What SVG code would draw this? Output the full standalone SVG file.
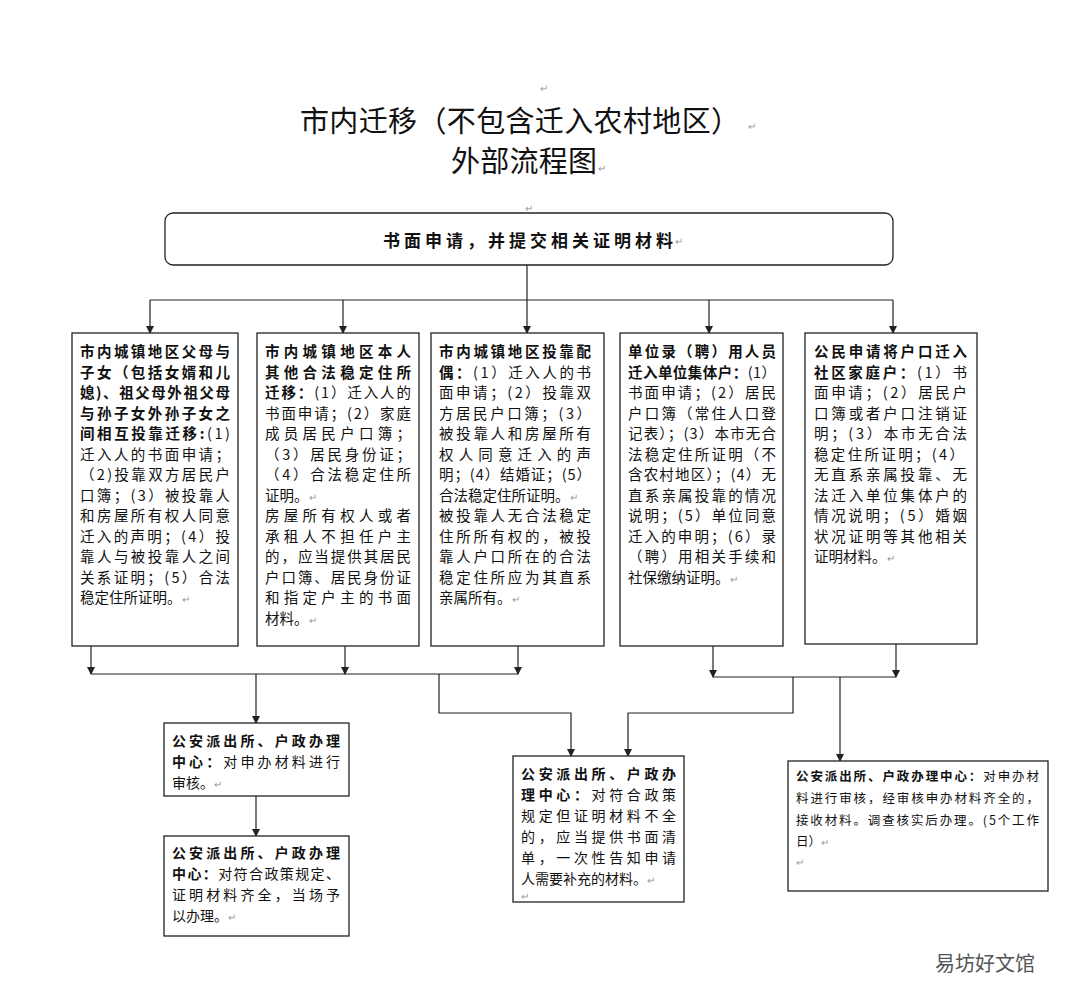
<svg xmlns="http://www.w3.org/2000/svg" width="1075" height="995" viewBox="0 0 1075 995">
<style>
text{font-family:"Noto Sans CJK SC","Liberation Serif",serif;fill:#111}
.t{font-size:29px}
.b{font-size:14.5px}
.s{font-size:14px}
.r{font-size:12.5px}
.bold{font-weight:bold}
.pm{fill:#999;font-size:10px}
.box{fill:#fff;stroke:#222;stroke-width:1.3}
.ln{fill:none;stroke:#222;stroke-width:1.2}
</style>
<defs><marker id="ah" markerWidth="8" markerHeight="8" refX="7" refY="4" orient="auto" markerUnits="userSpaceOnUse"><path d="M0,0L8,4L0,8z" fill="#222"/></marker></defs>
<rect width="1075" height="995" fill="#fff"/>
<g id="title">
<text class="t" x="300" y="132" textLength="440">市内迁移（不包含迁入农村地区）</text>
<text class="pm" x="748" y="130">↵</text>
<text class="t" x="451" y="172" textLength="146">外部流程图</text>
<text class="pm" x="598" y="172">↵</text>
<text class="pm" x="540" y="92">↵</text>
<text class="pm" x="525" y="212">↵</text>
</g>
<g id="connectors">
<path class="ln" d="M527,265V300M150,300H893"/>
<path class="ln" marker-end="url(#ah)" d="M150,300V333"/>
<path class="ln" marker-end="url(#ah)" d="M343,300V333"/>
<path class="ln" marker-end="url(#ah)" d="M527,300V333"/>
<path class="ln" marker-end="url(#ah)" d="M709,300V333"/>
<path class="ln" marker-end="url(#ah)" d="M893,300V333"/>
<path class="ln" marker-end="url(#ah)" d="M91,646V674"/>
<path class="ln" marker-end="url(#ah)" d="M345,646V674"/>
<path class="ln" marker-end="url(#ah)" d="M518,646V674"/>
<path class="ln" d="M91,674H518"/>
<path class="ln" marker-end="url(#ah)" d="M713,646V677"/>
<path class="ln" marker-end="url(#ah)" d="M896,644V677"/>
<path class="ln" d="M713,677H896"/>
<path class="ln" marker-end="url(#ah)" d="M256,674V723"/>
<path class="ln" marker-end="url(#ah)" d="M439,674V713H571V756"/>
<path class="ln" marker-end="url(#ah)" d="M793,677V713H628V756"/>
<path class="ln" marker-end="url(#ah)" d="M840,677V761"/>
<path class="ln" marker-end="url(#ah)" d="M256,796V836"/>
</g>
<g id="top">
<rect class="box" x="165" y="213" width="728" height="52" rx="8"/>
<text x="383" y="247" class="bold" font-size="17" textLength="290">书面申请，并提交相关证明材料</text>
<text class="pm" x="675" y="245">↵</text>
</g>
<g id="n1" class="b">
<rect class="box" x="72" y="333" width="166" height="313"/>
<text class="bold" x="80" y="357" textLength="150">市内城镇地区父母与</text>
<text class="bold" x="80" y="377.5" textLength="150">子女（包括女婿和儿</text>
<text class="bold" x="80" y="398" textLength="150">媳)、祖父母外祖父母</text>
<text class="bold" x="80" y="418.5" textLength="150">与孙子女外孙子女之</text>
<text x="80" y="439" textLength="150"><tspan class="bold">间相互投靠迁移:</tspan>(1)</text>
<text x="80" y="459.5" textLength="150">迁入人的书面申请；</text>
<text x="80" y="480" textLength="150">（2)投靠双方居民户</text>
<text x="80" y="500.5" textLength="150">口簿；(3）被投靠人</text>
<text x="80" y="521" textLength="150">和房屋所有权人同意</text>
<text x="80" y="541.5" textLength="150">迁入的声明；(4）投</text>
<text x="80" y="562" textLength="150">靠人与被投靠人之间</text>
<text x="80" y="582.5" textLength="150">关系证明；(5）合法</text>
<text x="80" y="603">稳定住所证明。<tspan class="pm">↵</tspan></text>
</g>
<g id="n2" class="b">
<rect class="box" x="257" y="333" width="162" height="313"/>
<text class="bold" x="265" y="357" textLength="146">市内城镇地区本人</text>
<text class="bold" x="265" y="377.5" textLength="146">其他合法稳定住所</text>
<text x="265" y="398" textLength="146"><tspan class="bold">迁移：</tspan>(1）迁入人的</text>
<text x="265" y="418.5" textLength="146">书面申请；(2）家庭</text>
<text x="265" y="439" textLength="146">成员居民户口簿；</text>
<text x="265" y="459.5" textLength="146">（3）居民身份证；</text>
<text x="265" y="480" textLength="146">（4）合法稳定住所</text>
<text x="265" y="500.5">证明。<tspan class="pm">↵</tspan></text>
<text x="265" y="521" textLength="146">房屋所有权人或者</text>
<text x="265" y="541.5" textLength="146">承租人不担任户主</text>
<text x="265" y="562" textLength="146">的，应当提供其居民</text>
<text x="265" y="582.5" textLength="146">户口簿、居民身份证</text>
<text x="265" y="603" textLength="146">和指定户主的书面</text>
<text x="265" y="623.5">材料。<tspan class="pm">↵</tspan></text>
</g>
<g id="n3" class="b">
<rect class="box" x="431" y="333" width="173" height="313"/>
<text class="bold" x="439" y="357" textLength="152">市内城镇地区投靠配</text>
<text x="439" y="377.5" textLength="152"><tspan class="bold">偶：</tspan>(1）迁入人的书</text>
<text x="439" y="398" textLength="152">面申请；(2）投靠双</text>
<text x="439" y="418.5" textLength="152">方居民户口簿；(3）</text>
<text x="439" y="439" textLength="152">被投靠人和房屋所有</text>
<text x="439" y="459.5" textLength="152">权人同意迁入的声</text>
<text x="439" y="480" textLength="152">明；(4）结婚证；(5）</text>
<text x="439" y="500.5">合法稳定住所证明。<tspan class="pm">↵</tspan></text>
<text x="439" y="521" textLength="152">被投靠人无合法稳定</text>
<text x="439" y="541.5" textLength="152">住所所有权的，被投</text>
<text x="439" y="562" textLength="152">靠人户口所在的合法</text>
<text x="439" y="582.5" textLength="152">稳定住所应为其直系</text>
<text x="439" y="603">亲属所有。<tspan class="pm">↵</tspan></text>
</g>
<g id="n4" class="b">
<rect class="box" x="620" y="333" width="163" height="313"/>
<text class="bold" x="628" y="357" textLength="148">单位录（聘）用人员</text>
<text x="628" y="377.5" textLength="148"><tspan class="bold">迁入单位集体户：</tspan>(1）</text>
<text x="628" y="398" textLength="148">书面申请；(2）居民</text>
<text x="628" y="418.5" textLength="148">户口簿（常住人口登</text>
<text x="628" y="439" textLength="148">记表）；(3）本市无合</text>
<text x="628" y="459.5" textLength="148">法稳定住所证明（不</text>
<text x="628" y="480" textLength="148">含农村地区）；(4）无</text>
<text x="628" y="500.5" textLength="148">直系亲属投靠的情况</text>
<text x="628" y="521" textLength="148">说明；(5）单位同意</text>
<text x="628" y="541.5" textLength="148">迁入的申明；(6）录</text>
<text x="628" y="562" textLength="148">（聘）用相关手续和</text>
<text x="628" y="582.5">社保缴纳证明。<tspan class="pm">↵</tspan></text>
</g>
<g id="n5" class="b">
<rect class="box" x="805" y="333" width="172" height="311"/>
<text class="bold" x="814" y="357" textLength="153">公民申请将户口迁入</text>
<text x="814" y="377.5" textLength="153"><tspan class="bold">社区家庭户：</tspan>(1）书</text>
<text x="814" y="398" textLength="153">面申请；(2）居民户</text>
<text x="814" y="418.5" textLength="153">口簿或者户口注销证</text>
<text x="814" y="439" textLength="153">明；(3）本市无合法</text>
<text x="814" y="459.5" textLength="150">稳定住所证明；(4）</text>
<text x="814" y="480" textLength="153">无直系亲属投靠、无</text>
<text x="814" y="500.5" textLength="153">法迁入单位集体户的</text>
<text x="814" y="521" textLength="153">情况说明；(5）婚姻</text>
<text x="814" y="541.5" textLength="153">状况证明等其他相关</text>
<text x="814" y="562">证明材料。<tspan class="pm">↵</tspan></text>
</g>
<g id="n6" class="s">
<rect class="box" x="164" y="723" width="185" height="73"/>
<text class="bold" x="172" y="746" textLength="168">公安派出所、户政办理</text>
<text x="172" y="767" textLength="168"><tspan class="bold">中心：</tspan>对申办材料进行</text>
<text x="172" y="788">审核。<tspan class="pm">↵</tspan></text>
</g>
<g id="n7" class="s">
<rect class="box" x="164" y="836" width="185" height="100"/>
<text class="bold" x="172" y="858" textLength="168">公安派出所、户政办理</text>
<text x="172" y="879" textLength="168"><tspan class="bold">中心：</tspan>对符合政策规定、</text>
<text x="172" y="900" textLength="168">证明材料齐全，当场予</text>
<text x="172" y="921">以办理。<tspan class="pm">↵</tspan></text>
</g>
<g id="n8" class="s">
<rect class="box" x="513" y="756" width="171" height="146"/>
<text class="bold" x="521" y="779" textLength="155">公安派出所、户政办</text>
<text x="521" y="800" textLength="155"><tspan class="bold">理中心：</tspan>对符合政策</text>
<text x="521" y="821" textLength="155">规定但证明材料不全</text>
<text x="521" y="842" textLength="155">的，应当提供书面清</text>
<text x="521" y="863" textLength="155">单，一次性告知申请</text>
<text x="521" y="884">人需要补充的材料。<tspan class="pm">↵</tspan></text>
<text class="pm" x="521" y="900">↵</text>
</g>
<g id="n9" class="r">
<rect class="box" x="788" y="761" width="260" height="130"/>
<text x="796" y="781" textLength="243"><tspan class="bold">公安派出所、户政办理中心：</tspan>对申办材</text>
<text x="796" y="803" textLength="243">料进行审核，经审核申办材料齐全的，</text>
<text x="796" y="825" textLength="243">接收材料。调查核实后办理。(5个工作</text>
<text x="796" y="846">日）<tspan class="pm">↵</tspan></text>
<text class="pm" x="796" y="866">↵</text>
</g>
<text x="985" y="971" text-anchor="middle" font-size="20" style="fill:#555">易坊好文馆</text>
</svg>
